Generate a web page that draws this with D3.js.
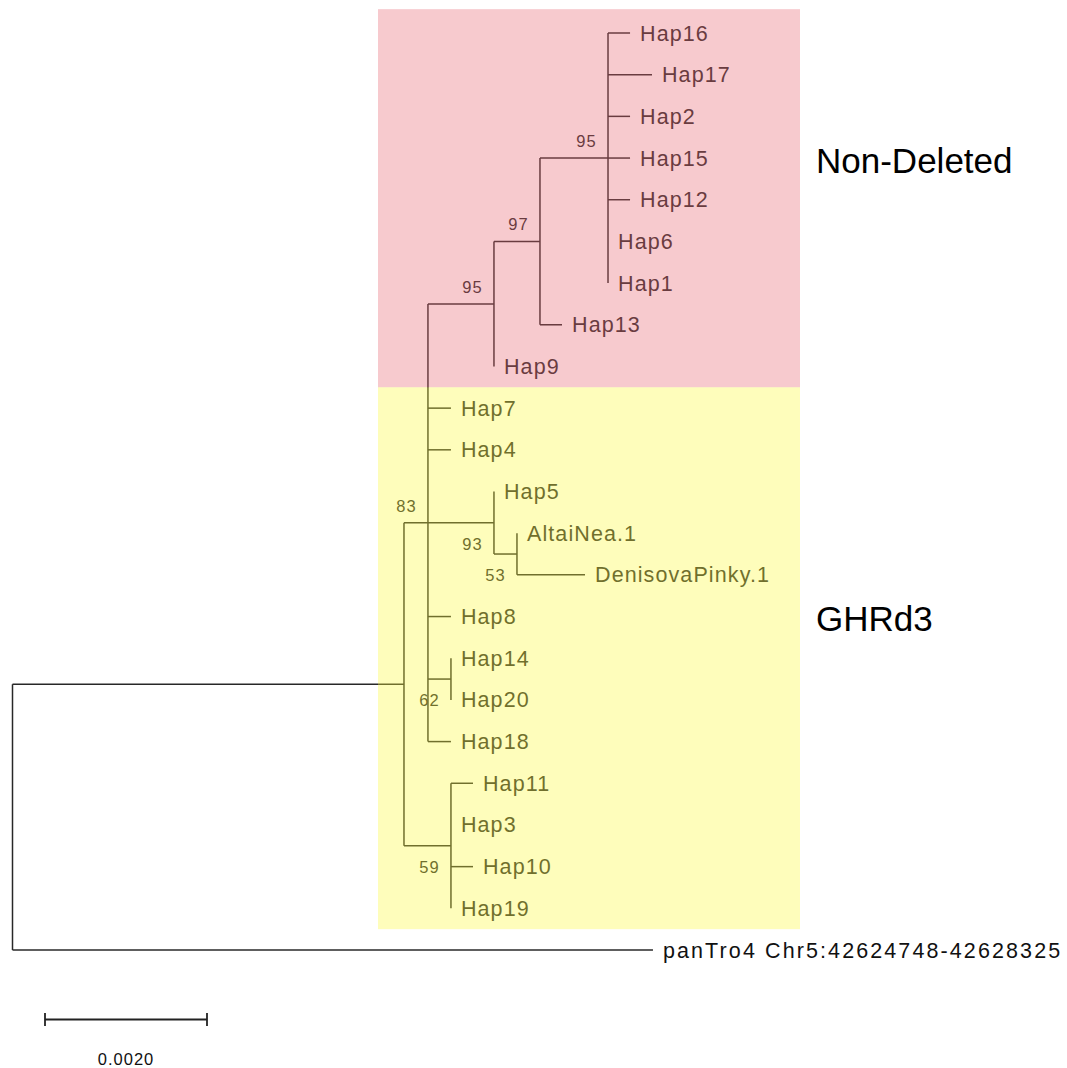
<!DOCTYPE html>
<html>
<head>
<meta charset="utf-8">
<script src="https://cdn.jsdelivr.net/npm/d3@7"></script>
<style>
  body { margin: 0; background: #fff; }
  svg { display: block; }
</style>
</head>
<body>
<svg id="chart" width="1067" height="1068"></svg>
<script>
// Tree topology in pre-order: node id, parent id, branch length (substitutions/site), bootstrap support
const nodeIds = [
  "root", "A", "N428", "ND", "N540", "N608",
  "Hap16", "Hap17", "Hap2", "Hap15", "Hap12", "Hap6", "Hap1",
  "Hap13", "Hap9", "Hap7", "Hap4",
  "N494b", "Hap5", "N517", "AltaiNea.1", "DenisovaPinky.1",
  "Hap8", "N451a", "Hap14", "Hap20", "Hap18",
  "N451b", "Hap11", "Hap3", "Hap10", "Hap19",
  "panTro4 Chr5:42624748-42628325"
];
const parentIds = [
  "", "root", "A", "N428", "ND", "N540",
  "N608", "N608", "N608", "N608", "N608", "N608", "N608",
  "N540", "ND", "N428", "N428",
  "N428", "N494b", "N494b", "N517", "N517",
  "N428", "N428", "N451a", "N451a", "N428",
  "A", "N451b", "N451b", "N451b", "N451b",
  "root"
];
const branchLengths = [
  0, 0.004833, 0.000296, 0.000815, 0.000568, 0.00084,
  0.000272, 0.000543, 0.000272, 0.000272, 0.000272, 0, 0,
  0.000272, 0, 0.000284, 0.000284,
  0.000815, 0, 0.000284, 0, 0.00084,
  0.000284, 0.000284, 0, 0, 0.000284,
  0.00058, 0.000272, 0, 0.000272, 0,
  0.007907
];
const bootstrap = [
  null, null, 83, 95, 97, 95,
  null, null, null, null, null, null, null,
  null, null, null, null,
  93, null, 53, null, null,
  null, 62, null, null, null,
  59, null, null, null, null,
  null
];

// Clade annotations: name, first and last leaf covered, leaf row beside which the name sits
const groupNames = ["Non-Deleted", "GHRd3"];
const groupFirst = ["Hap16", "Hap7"];
const groupLast = ["Hap9", "Hap19"];
const groupLabelRow = ["Hap15", "Hap8"];

// Scale bar
const scaleBarValue = 0.0020;
const scaleBarLabel = "0.0020";

const svg = d3.select("#chart");
const lineColor = "#282828";
const font = "'Liberation Sans', Arial, Helvetica, sans-serif";

const table = nodeIds.map((id, i) => ({
  id, parent: parentIds[i] || null, len: branchLengths[i], bs: bootstrap[i]
}));
const root = d3.stratify().id(d => d.id).parentId(d => d.parent)(table);

// cumulative distance from root
root.each(n => { n.dist = n.parent ? n.parent.dist + n.data.len : 0; });

// leaf rows, internal nodes at mid-point of first and last child
const leaves = root.leaves();
leaves.forEach((l, i) => { l.row = i; });
root.eachAfter(n => {
  if (n.children) n.row = (n.children[0].row + n.children[n.children.length - 1].row) / 2;
});

const x = d3.scaleLinear().domain([0, 0.002]).range([12.5, 174.5]);
const y = d3.scaleLinear().domain([0, leaves.length - 1]).range([33, 950]);
const step = y(1) - y(0);

const gTree = svg.append("g");

// horizontal branches
gTree.selectAll("line.h")
  .data(root.descendants().filter(n => n.parent && n.data.len > 0))
  .join("line")
  .attr("x1", n => x(n.parent.dist)).attr("x2", n => x(n.dist))
  .attr("y1", n => y(n.row)).attr("y2", n => y(n.row))
  .attr("stroke", lineColor).attr("stroke-width", 1.5);

// vertical connectors
gTree.selectAll("line.v")
  .data(root.descendants().filter(n => n.children))
  .join("line")
  .attr("x1", n => x(n.dist)).attr("x2", n => x(n.dist))
  .attr("y1", n => y(n.children[0].row))
  .attr("y2", n => y(n.children[n.children.length - 1].row))
  .attr("stroke", lineColor).attr("stroke-width", 1.5);

// leaf labels
gTree.selectAll("text.leaf")
  .data(leaves)
  .join("text")
  .attr("x", n => x(n.dist) + 10)
  .attr("y", n => y(n.row))
  .attr("dy", "0.35em")
  .attr("font-family", font)
  .attr("font-size", 21.5)
  .attr("letter-spacing", n => n.data.id.startsWith("panTro") ? 2.1 : 1.1)
  .attr("fill", n => n.data.id.startsWith("panTro") ? "#111" : lineColor)
  .text(n => n.data.id);

// bootstrap values, left of the node: above the branch for upper children, below for lower
gTree.selectAll("text.bs")
  .data(root.descendants().filter(n => n.data.bs != null))
  .join("text")
  .attr("x", n => x(n.dist) - 11)
  .attr("y", n => n.row >= n.parent.row ? y(n.row) + 27 : y(n.row) - 11)
  .attr("text-anchor", "end")
  .attr("font-family", font)
  .attr("font-size", 16.5)
  .attr("letter-spacing", 1.2)
  .attr("fill", lineColor)
  .text(n => n.data.bs);

// translucent clade highlights laid over the tree
const rowOf = id => leaves.find(l => l.data.id === id).row;
const groupFill = ["rgb(231,99,111)", "rgb(252,249,55)"];
svg.append("g").selectAll("rect")
  .data(groupNames.map((g, i) => ({ g, i, top: rowOf(groupFirst[i]), bottom: rowOf(groupLast[i]) })))
  .join("rect")
  .attr("x", 378).attr("width", 422)
  .attr("y", d => y(d.top) - step / 2 - (d.i === 0 ? 3 : 0))
  .attr("height", d => y(d.bottom) - y(d.top) + step + (d.i === 0 ? 3 : 0))
  .attr("fill", d => groupFill[d.i])
  .attr("fill-opacity", 0.34);

// clade names
svg.append("g").selectAll("text")
  .data(groupNames.map((g, i) => ({ g, row: rowOf(groupLabelRow[i]) })))
  .join("text")
  .attr("x", 816)
  .attr("y", d => y(d.row))
  .attr("dy", "0.42em")
  .attr("font-family", font)
  .attr("font-size", 35)
  .attr("fill", "#000")
  .text(d => d.g);

// scale bar
const sbX0 = 45, sbY = 1019.5;
const sbLen = x(scaleBarValue) - x(0);
const sb = svg.append("g").attr("stroke", "#222").attr("stroke-width", 1.8);
sb.append("line").attr("x1", sbX0).attr("x2", sbX0 + sbLen).attr("y1", sbY).attr("y2", sbY);
sb.append("line").attr("x1", sbX0).attr("x2", sbX0).attr("y1", sbY - 6.5).attr("y2", sbY + 6.5);
sb.append("line").attr("x1", sbX0 + sbLen).attr("x2", sbX0 + sbLen).attr("y1", sbY - 6.5).attr("y2", sbY + 6.5);
svg.append("text")
  .attr("x", sbX0 + sbLen / 2)
  .attr("y", 1065)
  .attr("text-anchor", "middle")
  .attr("font-family", font)
  .attr("font-size", 16.5)
  .attr("letter-spacing", 1)
  .attr("fill", "#111")
  .text(scaleBarLabel);
</script>
</body>
</html>
